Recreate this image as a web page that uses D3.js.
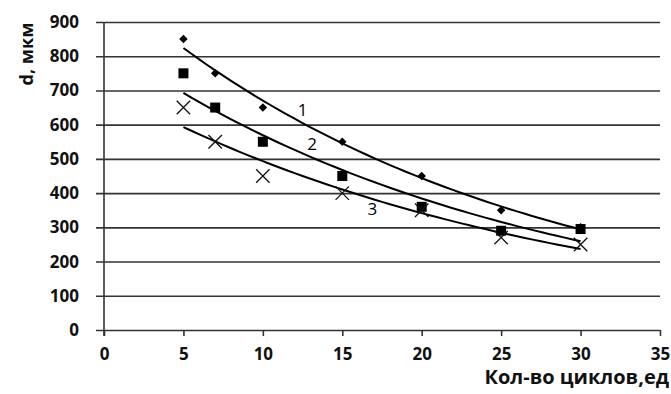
<!DOCTYPE html>
<html lang="ru">
<head>
  <meta charset="UTF-8">
  <title>d от количества циклов</title>
  <script src="https://d3js.org/d3.v7.min.js"></script>
  <style>
    body { margin: 0; background: #fff; }
    text { font-family: "Open Sans", sans-serif; font-weight: 700; fill: #111; }
  </style>
</head>
<body>
  <svg width="671" height="394"></svg>

  <script>
    // cycles and measured d values for the three series
    const cycles = [5, 7, 10, 15, 20, 25, 30];
    const series1 = [850, 750, 650, 550, 450, 350, 300];
    const series2 = [750, 650, 550, 450, 360, 290, 295];
    const series3 = [650, 550, 450, 400, 350, 270, 250];
    const xTicks = [0, 5, 10, 15, 20, 25, 30, 35];
    const yTicks = [0, 100, 200, 300, 400, 500, 600, 700, 800, 900];
    // curve labels: [name, x, y] in data units
    const curveLabels = [["1", 12.5, 640], ["2", 13.1, 540], ["3", 16.9, 348]];

    const margin = { top: 22, right: 11, bottom: 64, left: 104 };
    const width = 671 - margin.left - margin.right;
    const height = 394 - margin.top - margin.bottom;

    const svg = d3.select("svg").append("g")
      .attr("transform", "translate(" + margin.left + "," + margin.top + ")");

    const x = d3.scaleLinear().domain([0, 35]).range([0, width]);
    const y = d3.scaleLinear().domain([0, 900]).range([height, 0]);

    // horizontal gridlines with left ticks
    const yAxis = svg.append("g")
      .call(d3.axisLeft(y).tickValues(yTicks).tickSize(-width - 8).tickPadding(16).tickFormat(d3.format("d")))
      .attr("transform", "translate(-8,0)");
    yAxis.select(".domain").remove();
    yAxis.selectAll("line").attr("stroke", "#333").attr("stroke-width", 1.6).attr("x1", 0).attr("x2", width + 8);
    yAxis.selectAll("text").style("font-size", "17px").attr("x", -8 - 9);

    // x axis
    const xAxis = svg.append("g")
      .attr("transform", "translate(0," + height + ")")
      .call(d3.axisBottom(x).tickValues(xTicks).tickSize(6).tickPadding(12).tickFormat(d3.format("d")));
    xAxis.select(".domain").remove();
    xAxis.selectAll("line").attr("stroke", "#333").attr("stroke-width", 1.6);
    xAxis.selectAll("text").style("font-size", "17px");

    // vertical axis line
    svg.append("line")
      .attr("x1", x(0)).attr("x2", x(0))
      .attr("y1", y(900)).attr("y2", y(0) + 6)
      .attr("stroke", "#333").attr("stroke-width", 1.6);

    // exponential trendline (least squares on ln y)
    function expFit(xs, ys) {
      const ly = ys.map(v => Math.log(v));
      const mx = d3.mean(xs), my = d3.mean(ly);
      let sxy = 0, sxx = 0;
      xs.forEach((v, i) => { sxy += (v - mx) * (ly[i] - my); sxx += (v - mx) * (v - mx); });
      const b = sxy / sxx;
      const a = Math.exp(my - b * mx);
      return t => a * Math.exp(b * t);
    }

    const line = d3.line().x(d => x(d[0])).y(d => y(d[1]));
    [series1, series2, series3].forEach(s => {
      const f = expFit(cycles, s);
      const pts = d3.range(5, 30.01, 0.5).map(t => [t, f(t)]);
      svg.append("path")
        .attr("d", line(pts))
        .attr("fill", "none")
        .attr("stroke", "#000")
        .attr("stroke-width", 2);
    });

    // markers
    svg.selectAll(".m1").data(cycles).enter().append("path")
      .attr("d", d3.symbol(d3.symbolSquare, 36)())
      .attr("transform", (d, i) => "translate(" + x(d) + "," + y(series1[i]) + ") rotate(45)")
      .attr("fill", "#000");

    svg.selectAll(".m2").data(cycles).enter().append("rect")
      .attr("x", d => x(d) - 5)
      .attr("y", (d, i) => y(series2[i]) - 5)
      .attr("width", 10).attr("height", 10)
      .attr("fill", "#000");

    svg.selectAll(".m3").data(cycles).enter().append("path")
      .attr("d", d3.symbol(d3.symbolX, 120)())
      .attr("transform", (d, i) => "translate(" + x(d) + "," + y(series3[i]) + ")")
      .attr("fill", "none")
      .attr("stroke", "#111")
      .attr("stroke-width", 1.3);

    // curve numbers
    svg.selectAll(".cl").data(curveLabels).enter().append("text")
      .attr("x", d => x(d[1]))
      .attr("y", d => y(d[2]))
      .attr("text-anchor", "middle")
      .attr("dominant-baseline", "middle")
      .style("font-size", "17px")
      .style("font-weight", "400")
      .style("fill", "#000")
      .text(d => d[0]);

    // axis titles
    d3.select("svg").append("text")
      .attr("x", 669).attr("y", 384)
      .attr("text-anchor", "end")
      .style("font-size", "20px")
      .text("Кол-во циклов,ед");

    d3.select("svg").append("text")
      .attr("transform", "translate(33,54) rotate(-90)")
      .attr("text-anchor", "middle")
      .style("font-size", "18px")
      .text("d, мкм");
  </script>
</body>
</html>
